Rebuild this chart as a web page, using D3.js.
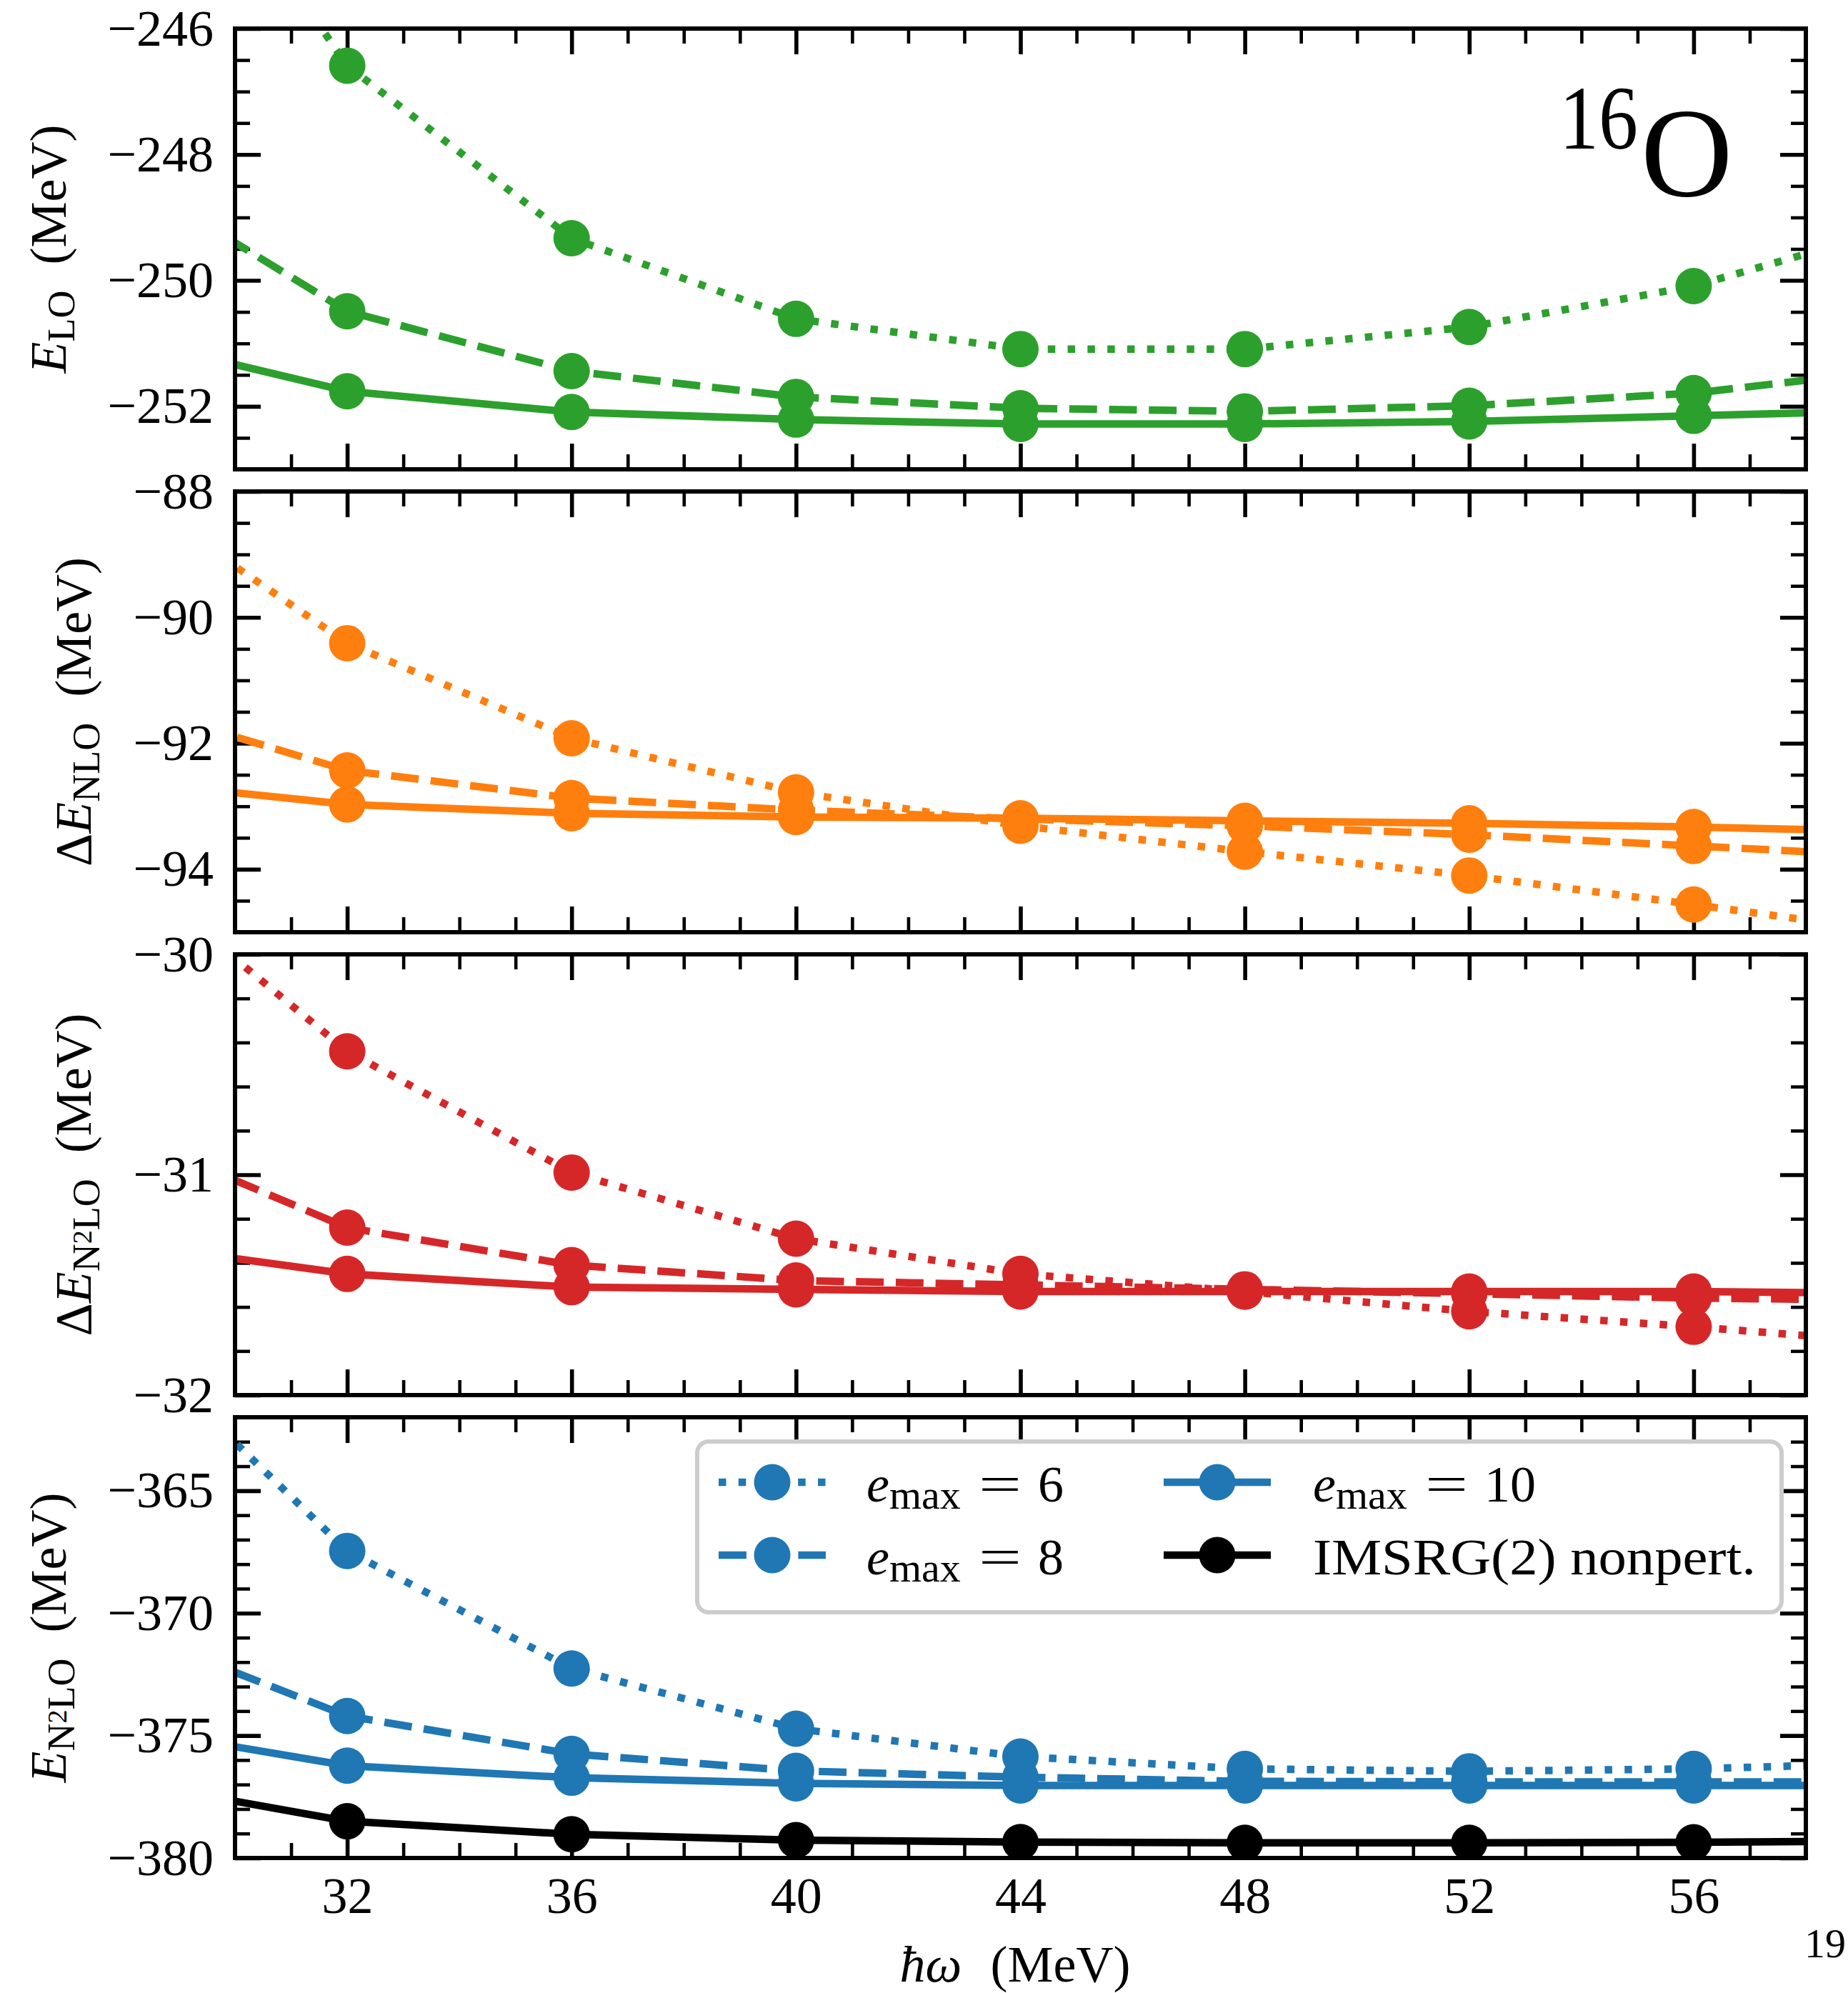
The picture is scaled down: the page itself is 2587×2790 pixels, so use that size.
<!DOCTYPE html>
<html>
<head>
<meta charset="utf-8">
<script src="https://cdn.jsdelivr.net/npm/d3@7"></script>
<style>
  html, body { margin: 0; padding: 0; background: #fff; }
  svg { display: block; }
</style>
</head>
<body>
<svg id="chart" width="2587" height="2790"></svg>
<script>
// ħω grid (MeV). The outer points (28, 60) sit outside the plotted window;
// they only carry each line out to the frame.
const hw = [28, 32, 36, 40, 44, 48, 52, 56, 60];
const xTickValues = [32, 36, 40, 44, 48, 52, 56];

// E_LO (MeV)
const eLO_emax6  = [-241.4, -246.59, -249.33, -250.61, -251.09, -251.09, -250.74, -250.09, -249.07];
const eLO_emax8  = [-248.31, -250.49, -251.44, -251.85, -252.03, -252.08, -251.99, -251.79, -251.38];
const eLO_emax10 = [-250.91, -251.76, -252.09, -252.21, -252.28, -252.28, -252.24, -252.15, -252.06];

// ΔE_NLO (MeV)
const dNLO_emax6  = [-87.97, -90.41, -91.92, -92.78, -93.31, -93.72, -94.10, -94.56, -95.05];
const dNLO_emax8  = [-91.36, -92.43, -92.87, -93.06, -93.20, -93.31, -93.45, -93.63, -93.81];
const dNLO_emax10 = [-92.60, -92.97, -93.11, -93.17, -93.19, -93.23, -93.27, -93.33, -93.41];

// ΔE_N2LO (MeV)
const dN2LO_emax6  = [-29.60, -30.44, -30.99, -31.29, -31.45, -31.53, -31.62, -31.69, -31.77];
const dN2LO_emax8  = [-30.81, -31.24, -31.41, -31.48, -31.50, -31.52, -31.54, -31.56, -31.57];
const dN2LO_emax10 = [-31.31, -31.45, -31.51, -31.52, -31.53, -31.53, -31.53, -31.53, -31.54];

// E_N2LO (MeV)
const eN2LO_emax6  = [-358.6, -367.46, -372.26, -374.72, -375.86, -376.36, -376.46, -376.36, -376.10];
const eN2LO_emax8  = [-370.63, -374.20, -375.75, -376.44, -376.70, -376.87, -376.89, -376.89, -376.89];
const eN2LO_emax10 = [-374.68, -376.23, -376.72, -376.95, -377.04, -377.04, -377.04, -377.04, -377.04];
const imsrgNonpert = [-376.86, -378.50, -379.03, -379.27, -379.35, -379.38, -379.38, -379.36, -379.30];

// y ticks per panel
const yTicksLO    = [-252, -250, -248, -246];
const yTicksNLO   = [-94, -92, -90, -88];
const yTicksN2LO  = [-32, -31, -30];
const yTicksTotal = [-380, -375, -370, -365];

const emaxValues = ["6", "8", "10"];
const imsrgLabel = "IMSRG(2) nonpert.";

// ---------------------------------------------------------------------------
const W = 2587, H = 2790;
const FONT = "'Liberation Serif', 'Times New Roman', serif";
const svg = d3.select("#chart").attr("font-family", FONT);
svg.append("rect").attr("width", W).attr("height", H).attr("fill", "#fff");

const plotLeft = 329, plotRight = 2528;
const firstTop = 40, panelH = 617, panelStep = 648;
const LW = 10.5, R = 25.5;
const dashFor = { dotted: "10.5 17.3", dashed: "38.9 16.8", solid: null };

const green = "#2ca02c", orange = "#ff7f0e", red = "#d62728", blue = "#1f77b4", black = "#000000";

const x = d3.scaleLinear().domain([30, 58]).range([plotLeft, plotRight]);

const styles = ["dotted", "dashed", "solid"];
const panels = [
  { yDomain: [-253, -246], majors: yTicksLO, minorStep: 0.5, labelX: 91.5,
    label: [{ t: "E", italic: true }, { t: "LO", size: 54, dy: 12 }, { t: "(MeV)", dy: -12, dx: 36 }],
    series: [eLO_emax6, eLO_emax8, eLO_emax10].map((v, i) => ({ values: v, color: green, style: styles[i] })) },
  { yDomain: [-95, -88], majors: yTicksNLO, minorStep: 0.5, labelX: 127,
    label: [{ t: "Δ" }, { t: "E", italic: true }, { t: "NLO", size: 54, dy: 12 }, { t: "(MeV)", dy: -12, dx: 36 }],
    series: [dNLO_emax6, dNLO_emax8, dNLO_emax10].map((v, i) => ({ values: v, color: orange, style: styles[i] })) },
  { yDomain: [-32, -30], majors: yTicksN2LO, minorStep: 0.2, labelX: 127,
    label: [{ t: "Δ" }, { t: "E", italic: true }, { t: "N", size: 54, dy: 12 }, { t: "2", size: 38, dy: -11 },
            { t: "LO", size: 54, dy: 11 }, { t: "(MeV)", dy: -12, dx: 36 }],
    series: [dN2LO_emax6, dN2LO_emax8, dN2LO_emax10].map((v, i) => ({ values: v, color: red, style: styles[i] })) },
  { yDomain: [-380, -362], majors: yTicksTotal, minorStep: 1, labelX: 91.5,
    label: [{ t: "E", italic: true }, { t: "N", size: 54, dy: 12 }, { t: "2", size: 38, dy: -11 },
            { t: "LO", size: 54, dy: 11 }, { t: "(MeV)", dy: -12, dx: 36 }],
    series: [eN2LO_emax6, eN2LO_emax8, eN2LO_emax10].map((v, i) => ({ values: v, color: blue, style: styles[i] }))
      .concat([{ values: imsrgNonpert, color: black, style: "solid" }]) }
];

// writes a run of styled pieces into a <text> element
function richText(textSel, parts, baseSize) {
  parts.forEach(p => {
    const ts = textSel.append("tspan").text(p.t)
      .attr("font-size", (p.size || baseSize) + "px")
      .attr("font-style", p.italic ? "italic" : "normal");
    if (p.dy) ts.attr("dy", p.dy);
    if (p.dx) ts.attr("dx", p.dx);
    if (p.x !== undefined) ts.attr("x", p.x);
  });
  return textSel;
}

function styleAxis(g, major, showText) {
  g.select(".domain").remove();
  g.selectAll(".tick line").attr("stroke", "#000").attr("stroke-width", major ? 5.6 : 4.6);
  g.selectAll(".tick text").attr("fill", "#000").attr("font-size", "72px").attr("font-family", FONT);
  if (!showText) g.selectAll(".tick text").remove();
}

panels.forEach((p, pi) => {
  const top = firstTop + pi * panelStep;
  const bottom = top + panelH;
  const y = d3.scaleLinear().domain(p.yDomain).range([bottom, top]);
  const g = svg.append("g");

  const clipId = "clip" + pi;
  g.append("clipPath").attr("id", clipId)
    .append("rect").attr("x", plotLeft).attr("y", top)
    .attr("width", plotRight - plotLeft).attr("height", panelH);

  // minor tick positions: every minorStep, skipping the majors
  const minorY = d3.range(p.yDomain[0], p.yDomain[1] + 1e-9, p.minorStep)
    .map(v => +v.toFixed(6))
    .filter(v => !p.majors.some(m => Math.abs(m - v) < 1e-6));
  const minorX = d3.range(31, 58, 1).filter(v => !xTickValues.includes(v));

  // ticks (below the data lines)
  const axes = g.append("g");
  const L = axes.append("g").attr("transform", `translate(${plotLeft},0)`)
    .call(d3.axisLeft(y).tickValues(p.majors).tickSize(-36).tickPadding(30).tickFormat(d3.format("d")));
  styleAxis(L, true, true);
  const Lm = axes.append("g").attr("transform", `translate(${plotLeft},0)`)
    .call(d3.axisLeft(y).tickValues(minorY).tickSize(-21).tickFormat(""));
  styleAxis(Lm, false, false);
  const Rt = axes.append("g").attr("transform", `translate(${plotRight},0)`)
    .call(d3.axisRight(y).tickValues(p.majors).tickSize(-36).tickFormat(""));
  styleAxis(Rt, true, false);
  const Rm = axes.append("g").attr("transform", `translate(${plotRight},0)`)
    .call(d3.axisRight(y).tickValues(minorY).tickSize(-21).tickFormat(""));
  styleAxis(Rm, false, false);
  const T = axes.append("g").attr("transform", `translate(0,${top})`)
    .call(d3.axisTop(x).tickValues(xTickValues).tickSize(-36).tickFormat(""));
  styleAxis(T, true, false);
  const Tm = axes.append("g").attr("transform", `translate(0,${top})`)
    .call(d3.axisTop(x).tickValues(minorX).tickSize(-21).tickFormat(""));
  styleAxis(Tm, false, false);
  const isLast = pi === panels.length - 1;
  const B = axes.append("g").attr("transform", `translate(0,${bottom})`)
    .call(d3.axisBottom(x).tickValues(xTickValues).tickSize(-36).tickPadding(26).tickFormat(d3.format("d")));
  styleAxis(B, true, isLast);
  const Bm = axes.append("g").attr("transform", `translate(0,${bottom})`)
    .call(d3.axisBottom(x).tickValues(minorX).tickSize(-21).tickFormat(""));
  styleAxis(Bm, false, false);

  // data
  const data = g.append("g").attr("clip-path", `url(#${clipId})`);
  const line = d3.line().x((d, i) => x(hw[i])).y(d => y(d));
  p.series.forEach(s => {
    const sg = data.append("g");
    sg.append("path").attr("d", line(s.values))
      .attr("fill", "none").attr("stroke", s.color).attr("stroke-width", LW)
      .attr("stroke-linecap", "butt").attr("stroke-linejoin", "round")
      .attr("stroke-dasharray", dashFor[s.style]);
    sg.selectAll("circle").data(s.values).join("circle")
      .attr("cx", (d, i) => x(hw[i])).attr("cy", d => y(d)).attr("r", R)
      .attr("fill", s.color);
  });

  // frame
  g.append("rect").attr("x", plotLeft).attr("y", top)
    .attr("width", plotRight - plotLeft).attr("height", panelH)
    .attr("fill", "none").attr("stroke", "#000").attr("stroke-width", 6);

  // y label
  const yl = g.append("text")
    .attr("transform", `translate(${p.labelX},${(top + bottom) / 2}) rotate(-90)`)
    .attr("text-anchor", "middle").attr("fill", "#000");
  richText(yl, p.label, 72);
});

// nucleus tag in the top panel
svg.append("text").attr("x", 2183).attr("y", 208).attr("font-size", "128px")
  .attr("textLength", 110).attr("lengthAdjust", "spacingAndGlyphs").text("16");
svg.append("text").attr("x", 2297).attr("y", 274).attr("font-size", "178px").text("O");

// x label
const xl = svg.append("text").attr("x", 1421).attr("y", 2774)
  .attr("text-anchor", "middle").attr("fill", "#000");
richText(xl, [{ t: "ħω", italic: true }, { t: "(MeV)", dx: 40 }], 72);

// page number at the lower right
svg.append("text").attr("x", 2526).attr("y", 2740).attr("font-size", "58px").text("19");

// legend
const legend = svg.append("g");
legend.append("rect").attr("x", 976).attr("y", 2018).attr("width", 1518).attr("height", 239)
  .attr("rx", 16).attr("fill", "#fff").attr("stroke", "#cccccc").attr("stroke-width", 6);

const legendItems = [
  { color: blue, style: "dotted", col: 0, row: 0, kind: "emax", value: emaxValues[0] },
  { color: blue, style: "dashed", col: 0, row: 1, kind: "emax", value: emaxValues[1] },
  { color: blue, style: "solid", col: 1, row: 0, kind: "emax", value: emaxValues[2] },
  { color: black, style: "solid", col: 1, row: 1, kind: "text", value: imsrgLabel }
];
const colHandle = [1006, 1629], colText = [1213, 1838], rowY = [2075, 2177];
const handleLen = 150;
legendItems.forEach(it => {
  const hx = colHandle[it.col], cy = rowY[it.row], tx = colText[it.col];
  const base = cy + 27;
  legend.append("line").attr("x1", hx).attr("x2", hx + handleLen).attr("y1", cy).attr("y2", cy)
    .attr("stroke", it.color).attr("stroke-width", LW).attr("stroke-dasharray", dashFor[it.style]);
  legend.append("circle").attr("cx", hx + handleLen / 2).attr("cy", cy).attr("r", R).attr("fill", it.color);
  if (it.kind === "emax") {
    const t = legend.append("text").attr("x", tx).attr("y", base).attr("fill", "#000");
    richText(t, [{ t: "e", italic: true }, { t: "max", size: 58, dy: 10 }], 72);
    legend.append("text").attr("x", tx + 157).attr("y", base).attr("font-size", "72px")
      .attr("textLength", 60).attr("lengthAdjust", "spacingAndGlyphs").text("=");
    legend.append("text").attr("x", tx + 240).attr("y", base).attr("font-size", "72px").text(it.value);
  } else {
    legend.append("text").attr("x", tx).attr("y", base).attr("font-size", "72px")
      .attr("textLength", 620).attr("lengthAdjust", "spacingAndGlyphs").text(it.value);
  }
});
</script>
</body>
</html>
